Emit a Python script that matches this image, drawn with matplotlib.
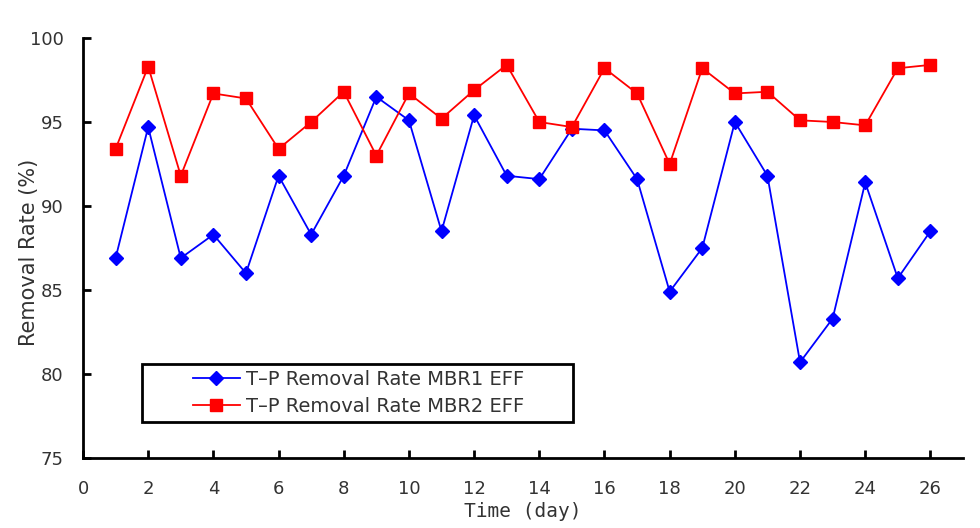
import matplotlib.pyplot as plt
from matplotlib.patches import Rectangle

days = list(range(1, 27))
mbr1 = [86.9, 94.7, 86.9, 88.3, 86.0, 91.8, 88.3, 91.8, 96.5, 95.1,
        88.5, 95.4, 91.8, 91.6, 94.6, 94.5, 91.6, 84.9, 87.5, 95.0,
        91.8, 80.7, 83.3, 91.4, 85.7, 88.5]
mbr2 = [93.4, 98.3, 91.8, 96.7, 96.4, 93.4, 95.0, 96.8, 93.0, 96.7,
        95.2, 96.9, 98.4, 95.0, 94.7, 98.2, 96.7, 92.5, 98.2, 96.7,
        96.8, 95.1, 95.0, 94.8, 98.2, 98.4]
xticks = list(range(0, 28, 2))
yticks = [75, 80, 85, 90, 95, 100]

txt = '#333333'

fig = plt.figure(figsize=(9.8, 5.28), dpi=100)
ax = fig.add_axes([83/980, 1-458/528, 880/980, 420/528])

ax.plot(days, mbr1, color='#0000ff', marker='D', markersize=7.5, linewidth=1.3,
        label='T\u2013P Removal Rate MBR1 EFF')
ax.plot(days, mbr2, color='#ff0000', marker='s', markersize=8.5, linewidth=1.3,
        label='T\u2013P Removal Rate MBR2 EFF')

ax.set_xlim(0, 27)
ax.set_ylim(75, 100)
ax.set_xticks(xticks)
ax.set_yticks(yticks)
ax.spines['top'].set_visible(False)
ax.spines['right'].set_visible(False)
for s in ['left', 'bottom']:
    ax.spines[s].set_linewidth(2)
ax.tick_params(axis='both', direction='in', length=6, width=2,
               labelsize=13, labelcolor=txt)
ax.tick_params(axis='x', pad=16)
ax.tick_params(axis='y', pad=14)

ax.set_xlabel('Time (day)', fontsize=14, family='DejaVu Sans Mono', color=txt, labelpad=3)
ax.set_ylabel('Removal Rate (%)', fontsize=15, color=txt)
ax.yaxis.set_label_coords(-0.05, 0.49)

ax.add_patch(Rectangle((0.067, 0.0857), 0.49, 0.138, transform=ax.transAxes,
                       fill=False, edgecolor='black', linewidth=2))
leg = ax.legend(loc='upper left', bbox_to_anchor=(0.125, 0.21), frameon=False,
                borderpad=0, borderaxespad=0, handlelength=2.4, handletextpad=0.3,
                labelspacing=0.4, fontsize=14)
for t in leg.get_texts():
    t.set_color(txt)

fig.savefig('out.png', dpi=100)
